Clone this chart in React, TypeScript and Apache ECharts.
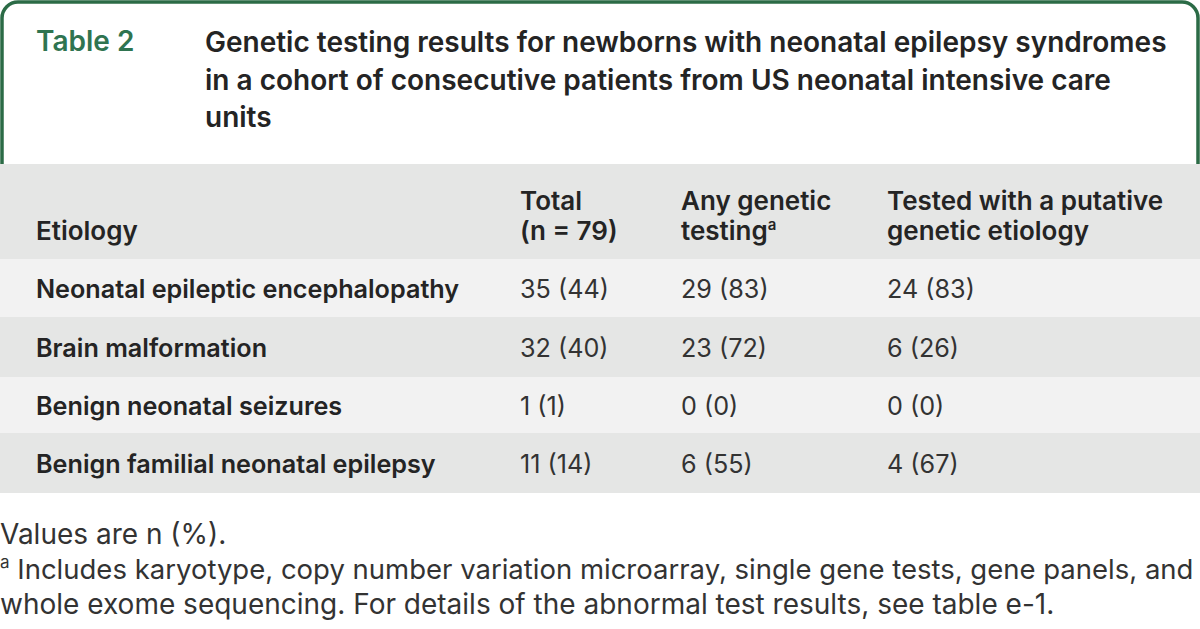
import React, { useEffect, useRef } from "react";
import * as echarts from "echarts";

const tableLabel = "Table 2";
const titleLines = [
  "Genetic testing results for newborns with neonatal epilepsy syndromes",
  "in a cohort of consecutive patients from US neonatal intensive care",
  "units",
];
const headerEtiology = "Etiology";
const headerTotal = ["Total", "(n = 79)"];
const headerAny = ["Any genetic", "testing"];
const headerAnySup = "a";
const headerTested = ["Tested with a putative", "genetic etiology"];

const etiologies = [
  "Neonatal epileptic encephalopathy",
  "Brain malformation",
  "Benign neonatal seizures",
  "Benign familial neonatal epilepsy",
];
const totalN = [35, 32, 1, 11];
const totalPct = [44, 40, 1, 14];
const anyN = [29, 23, 0, 6];
const anyPct = [83, 72, 0, 55];
const putativeN = [24, 6, 0, 4];
const putativePct = [83, 26, 0, 67];

const noteValues = "Values are n (%).";
const noteSup = "a";
const noteLines = [
  "Includes karyotype, copy number variation microarray, single gene tests, gene panels, and",
  "whole exome sequencing. For details of the abnormal test results, see table e-1.",
];

const FONT = "Inter";
const GREEN = "#2b6b46";
const GREEN_TEXT = "#2f7450";
const DARK = "#242424";
const VAL = "#333333";
const GRAY = "#e5e6e5";
const LIGHT = "#f2f2f2";

export default function App() {
  const ref = useRef<HTMLDivElement>(null);
  useEffect(() => {
    document.body.style.margin = "0";
    const chart = echarts.init(ref.current!, undefined, { renderer: "svg" });
    const els: any[] = [];

    // title box with green rounded border
    els.push({
      type: "rect",
      shape: { x: 2, y: 2, width: 1196, height: 200, r: 16 },
      style: { fill: "#ffffff", stroke: GREEN, lineWidth: 3.5 },
    });
    els.push({
      type: "text",
      x: 36,
      y: 41,
      style: {
        text: tableLabel,
        font: `600 28px ${FONT}`,
        fill: GREEN_TEXT,
        verticalAlign: "middle",
      },
    });
    titleLines.forEach((t, i) => {
      els.push({
        type: "text",
        x: 205,
        y: 42 + i * 37.7,
        style: {
          text: t,
          font: `600 28px ${FONT}`,
          fill: DARK,
          verticalAlign: "middle",
        },
      });
    });

    // table backgrounds
    els.push({ type: "rect", shape: { x: 0, y: 164, width: 1200, height: 95 }, style: { fill: GRAY } });
    const rowTops = [259, 317, 377, 433];
    const rowBottoms = [317, 377, 433, 493];
    rowTops.forEach((t, i) => {
      els.push({
        type: "rect",
        shape: { x: 0, y: t, width: 1200, height: rowBottoms[i] - t },
        style: { fill: i % 2 === 0 ? LIGHT : GRAY },
      });
    });

    const colX = [36, 520, 681, 887];
    const hSize = 26;
    const hFont = `600 ${hSize}px ${FONT}`;
    const h1 = 200;
    const h2 = 230;
    els.push({ type: "text", x: colX[0], y: h2, style: { text: headerEtiology, font: hFont, fill: DARK, verticalAlign: "middle" } });
    [headerTotal, headerAny, headerTested].forEach((lines, ci) => {
      els.push({ type: "text", x: colX[ci + 1], y: h1, style: { text: lines[0], font: hFont, fill: DARK, verticalAlign: "middle" } });
      if (ci === 1) {
        els.push({
          type: "text",
          x: colX[ci + 1],
          y: h2,
          style: {
            text: `{r|${lines[1]}}{s|${headerAnySup}}`,
            verticalAlign: "middle",
            rich: {
              r: { fontFamily: FONT, fontWeight: 600, fontSize: hSize, lineHeight: 26, fill: DARK, color: DARK },
              s: { fontFamily: FONT, fontWeight: 600, fontSize: 15, lineHeight: 16, verticalAlign: "top", fill: DARK, color: DARK },
            },
          },
        });
      } else {
        els.push({ type: "text", x: colX[ci + 1], y: h2, style: { text: lines[1], font: hFont, fill: DARK, verticalAlign: "middle" } });
      }
    });

    const bFont = `600 25.2px ${FONT}`;
    const vFont = `400 25.2px ${FONT}`;
    etiologies.forEach((e, i) => {
      const cy = (rowTops[i] + rowBottoms[i]) / 2 + 1;
      els.push({ type: "text", x: colX[0], y: cy, style: { text: e, font: bFont, fill: DARK, verticalAlign: "middle" } });
      const vals = [
        `${totalN[i]} (${totalPct[i]})`,
        `${anyN[i]} (${anyPct[i]})`,
        `${putativeN[i]} (${putativePct[i]})`,
      ];
      vals.forEach((v, ci) => {
        els.push({ type: "text", x: colX[ci + 1], y: cy, style: { text: v, font: vFont, fill: VAL, verticalAlign: "middle" } });
      });
    });

    const nSize = 28;
    const nFont = `400 ${nSize}px ${FONT}`;
    const n1Size = 27.5;
    els.push({ type: "text", x: 0, y: 534, style: { text: noteValues, font: nFont, fill: VAL, verticalAlign: "middle" } });
    noteLines.forEach((t, i) => {
      if (i === 0) {
        els.push({
          type: "text",
          x: 0,
          y: 569,
          style: {
            text: `{s|${noteSup}}{r| ${t}}`,
            verticalAlign: "middle",
            rich: {
              r: { fontFamily: FONT, fontWeight: 400, fontSize: n1Size, lineHeight: 32, fill: VAL, color: VAL },
              s: { fontFamily: FONT, fontWeight: 400, fontSize: 17, lineHeight: 20, verticalAlign: "top", fill: VAL, color: VAL },
            },
          },
        });
      } else {
        els.push({ type: "text", x: 0, y: 569 + 35 * i, style: { text: t, font: nFont, fill: VAL, verticalAlign: "middle" } });
      }
    });

    chart.setOption({ animation: false, graphic: { elements: els } });
    return () => chart.dispose();
  }, []);
  return <div ref={ref} style={{ width: 1200, height: 629, background: "#fff" }} />;
}
